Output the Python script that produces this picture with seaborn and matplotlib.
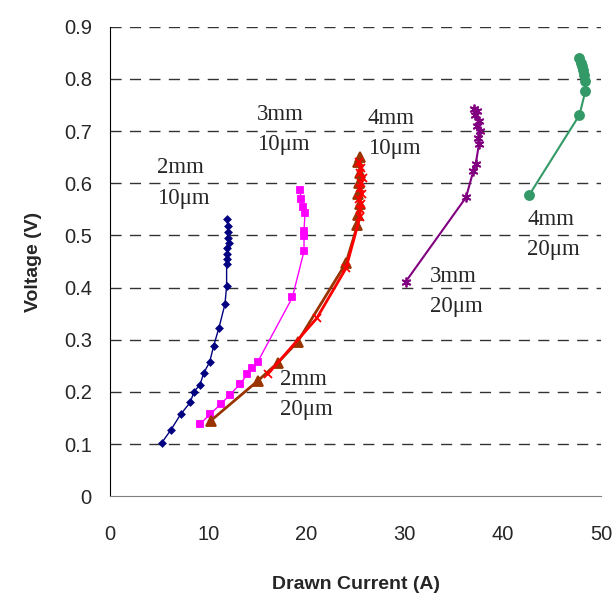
import matplotlib
matplotlib.use("Agg")
import matplotlib.pyplot as plt
import seaborn as sns

# 2mm / 10um
i_2mm_10 = [5.26, 6.2, 7.2, 8.18, 8.55, 9.17, 9.57, 10.15, 10.56, 11.1, 11.71, 11.88,
            11.88, 11.9, 11.9, 11.95, 12.1, 12.05, 12.05, 12.0, 11.88]
v_2mm_10 = [0.102, 0.127, 0.157, 0.180, 0.200, 0.214, 0.237, 0.257, 0.288, 0.323, 0.368, 0.403,
            0.445, 0.455, 0.464, 0.475, 0.485, 0.496, 0.507, 0.519, 0.531]

# 3mm / 10um
i_3mm_10 = [9.16, 10.18, 11.3, 12.25, 13.24, 14.0, 14.5, 15.03, 18.57, 19.76, 19.76, 19.76,
            19.86, 19.7, 19.45, 19.35]
v_3mm_10 = [0.138, 0.157, 0.177, 0.195, 0.215, 0.234, 0.246, 0.257, 0.381, 0.470, 0.498, 0.509,
            0.543, 0.555, 0.569, 0.587]

# 2mm / 20um
i_2mm_20 = [10.28, 15.04, 17.1, 19.1, 24.03, 25.2, 25.3, 25.5, 25.3, 25.4, 25.5, 25.3, 25.46]
v_2mm_20 = [0.145, 0.221, 0.256, 0.296, 0.447, 0.520, 0.540, 0.560, 0.580, 0.600, 0.620, 0.640, 0.650]

# 4mm / 10um
i_4mm_10 = [16.06, 21.05, 24.03, 25.46, 25.5, 25.6, 25.4, 25.7, 25.5, 25.6, 25.8, 25.5, 25.6, 25.4]
v_4mm_10 = [0.234, 0.341, 0.437, 0.536, 0.550, 0.560, 0.570, 0.580, 0.590, 0.600, 0.610, 0.620, 0.630, 0.640]

# 3mm / 20um
i_3mm_20 = [30.1, 36.25, 37.0, 37.24, 37.57, 37.5, 37.7, 37.4, 37.6, 37.2, 37.4, 37.1]
v_3mm_20 = [0.411, 0.573, 0.624, 0.637, 0.676, 0.687, 0.700, 0.710, 0.720, 0.730, 0.738, 0.742]

# 4mm / 20um
i_4mm_20 = [42.7, 47.8, 48.4, 48.37, 48.3, 48.2, 48.1, 47.96, 47.76]
v_4mm_20 = [0.578, 0.731, 0.777, 0.797, 0.808, 0.818, 0.825, 0.830, 0.840]

labels = ["2mm\n10\u03bcm", "3mm\n10\u03bcm", "4mm\n10\u03bcm",
          "2mm\n20\u03bcm", "3mm\n20\u03bcm", "4mm\n20\u03bcm"]
label_x = [4.76, 14.94, 26.27, 17.3, 32.6, 42.5]
label_y = [0.619, 0.722, 0.714, 0.213, 0.411, 0.520]

sns.set_style("white")
plt.rcParams["font.family"] = ["Liberation Sans", "DejaVu Sans"]

fig = plt.figure(figsize=(6.14, 5.95), dpi=100)
ax = fig.add_axes([0.179, 0.166, 0.800, 0.789])

series = [
    (i_2mm_10, v_2mm_10, "#000080", "D", 3.2, 1.0),
    (i_3mm_10, v_3mm_10, "#FF00FF", "s", 4.5, 1.0),
    (i_2mm_20, v_2mm_20, "#993300", "^", 6.5, 2.0),
    (i_4mm_10, v_4mm_10, "#FF0000", "x", 6, 2.0),
    (i_3mm_20, v_3mm_20, "#800080", (6, 2, 0), 7, 1.5),
    (i_4mm_20, v_4mm_20, "#339966", "o", 6.5, 1.5),
]

for xs, ys, color, mk, ms, lw in series:
    sns.lineplot(x=xs, y=ys, sort=False, estimator=None, color=color,
                 marker=mk, markersize=ms, linewidth=lw,
                 markeredgecolor=color, markeredgewidth=1.3, ax=ax)

for txt, lx, ly in zip(labels, label_x, label_y):
    first, second = txt.split("\n")
    ax.text(lx, ly, first, family="Liberation Serif", fontsize=16.5, va="baseline", ha="left")
    ax.text(lx, ly - 0.058, second, family="Liberation Serif", fontsize=16.5, va="baseline", ha="left")

ax.set_xlim(0, 50)
ax.set_ylim(0, 0.9)
ax.set_xticks(range(0, 51, 10))
ax.set_yticks([i / 10 for i in range(10)])
ax.set_yticklabels(["0"] + [f"{i / 10:.1f}" for i in range(1, 10)])

for yv in [i / 10 for i in range(1, 10)]:
    ax.axhline(yv, color="#333333", linewidth=1, linestyle=(0, (8, 6)), zorder=0)

for side in ["top", "right"]:
    ax.spines[side].set_visible(False)
ax.spines["left"].set_color("black")
ax.spines["bottom"].set_color("#808080")

ax.tick_params(axis="both", direction="out", length=7, color="#808080",
               labelsize=14.5, pad=6)
ax.tick_params(axis="x", pad=14)

ax.set_xlabel("Drawn Current (A)", fontsize=14, fontweight="bold", labelpad=23)
ax.set_ylabel("Voltage (V)", fontsize=14, fontweight="bold", labelpad=16)

fig.savefig("out.png", dpi=100)
